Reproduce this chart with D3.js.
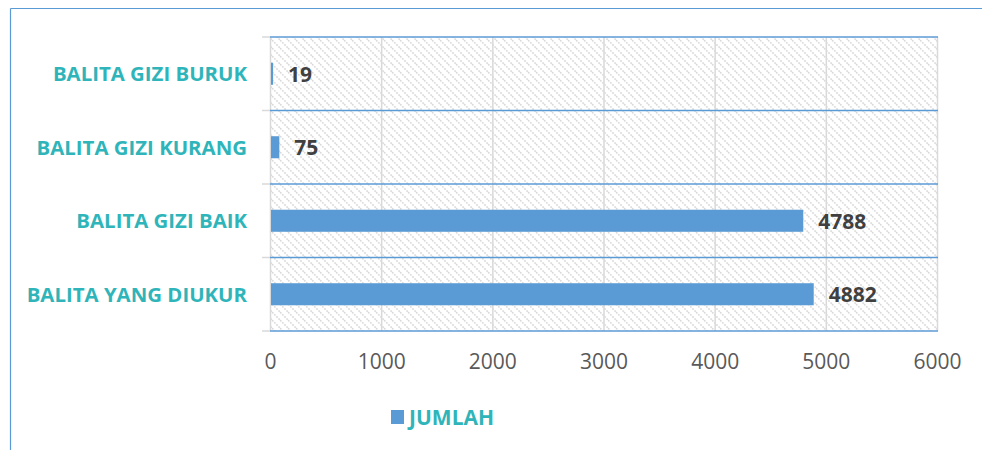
<!DOCTYPE html>
<html><head><meta charset="utf-8">
<script src="https://cdn.jsdelivr.net/npm/d3@7"></script>
<style>
html,body{margin:0;padding:0;background:#fff;}
svg{display:block;}
</style></head>
<body>
<svg id="chart" width="982" height="450"></svg>
<script>
const categories = ["BALITA GIZI BURUK", "BALITA GIZI KURANG", "BALITA GIZI BAIK", "BALITA YANG DIUKUR"];
const values = [19, 75, 4788, 4882];
const tickValues = [0, 1000, 2000, 3000, 4000, 5000, 6000];
const seriesName = "JUMLAH";

const svg = d3.select("#chart");
const font = "'Open Sans', 'DejaVu Sans', sans-serif";
const blue = "#5B9BD5", teal = "#2FB5B9", grid = "#D9D9D9";

// frame lines
svg.append("line").attr("x1", 10.5).attr("x2", 982).attr("y1", 8.5).attr("y2", 8.5).attr("stroke", blue).attr("stroke-width", 1.2);
svg.append("line").attr("x1", 10.5).attr("x2", 10.5).attr("y1", 8.5).attr("y2", 450).attr("stroke", blue).attr("stroke-width", 1.2);

const x = d3.scaleLinear().domain([0, 6000]).range([270, 937]);
const y = d3.scaleBand().domain(categories).range([37, 331]).paddingInner(0.7).paddingOuter(0.35);
const band = d3.scaleBand().domain(categories).range([37, 331]);

// hatch pattern
const defs = svg.append("defs");
const pat = defs.append("pattern").attr("id", "hatch").attr("patternUnits", "userSpaceOnUse")
  .attr("width", 8).attr("height", 8);
pat.append("path").attr("d", "M-2,-2 L10,10 M-2,6 L2,10 M6,-2 L10,2")
  .attr("stroke", "#DADADA").attr("stroke-width", 1.6).attr("stroke-dasharray", "1.8,1.2");

svg.append("rect").attr("x", x(0)).attr("y", 37).attr("width", x(6000) - x(0)).attr("height", 331 - 37)
  .attr("fill", "url(#hatch)");

// vertical grid
svg.append("g").selectAll("line").data(tickValues).join("line")
  .attr("x1", d => x(d) + 0.5).attr("x2", d => x(d) + 0.5)
  .attr("y1", 37).attr("y2", 331).attr("stroke", grid).attr("stroke-width", 1.5);

// band boundary lines (blue)
const bounds = categories.map(c => band(c)).concat([331]);
svg.append("g").selectAll("line").data(bounds).join("line")
  .attr("x1", x(0)).attr("x2", x(6000) + 1)
  .attr("y1", d => d).attr("y2", d => d).attr("stroke", blue).attr("stroke-width", 1.5);
// left ticks
svg.append("g").selectAll("line").data(bounds).join("line")
  .attr("x1", 262).attr("x2", x(0))
  .attr("y1", d => d).attr("y2", d => d).attr("stroke", grid).attr("stroke-width", 1.5);

// bars
svg.append("g").selectAll("rect").data(values).join("rect")
  .attr("x", x(0) + 1)
  .attr("y", (d, i) => y(categories[i]))
  .attr("width", d => Math.max(1.5, x(d) - x(0)))
  .attr("height", y.bandwidth())
  .attr("fill", blue);

// value labels
svg.append("g").selectAll("text").data(values).join("text")
  .attr("x", d => x(d) + 16)
  .attr("y", (d, i) => y(categories[i]) + y.bandwidth() / 2)
  .attr("dy", "0.37em")
  .attr("font-family", font).attr("font-weight", 700).attr("font-size", 21)
  .attr("fill", "#404040")
  .text(d => d);

// category labels
svg.append("g").selectAll("text").data(categories).join("text")
  .attr("x", 247)
  .attr("y", d => band(d) + band.bandwidth() / 2)
  .attr("dy", "0.36em")
  .attr("text-anchor", "end")
  .attr("font-family", font).attr("font-weight", 700).attr("font-size", 20.4)
  .attr("fill", teal)
  .text(d => d);

// x axis tick labels
const ax = svg.append("g").attr("transform", "translate(0,331)")
  .call(d3.axisBottom(x).tickValues(tickValues).tickSize(0).tickPadding(0).tickFormat(d3.format("d")));
ax.select(".domain").remove();
ax.selectAll("text").attr("y", 38).attr("dy", 0)
  .attr("font-family", font).attr("font-size", 21).attr("fill", "#595959");

// legend
svg.append("rect").attr("x", 391).attr("y", 410).attr("width", 13).attr("height", 14).attr("fill", blue);
svg.append("text").attr("x", 409).attr("y", 425)
  .attr("font-family", font).attr("font-weight", 700).attr("font-size", 21)
  .attr("fill", teal).text(seriesName);
</script>
</body></html>
